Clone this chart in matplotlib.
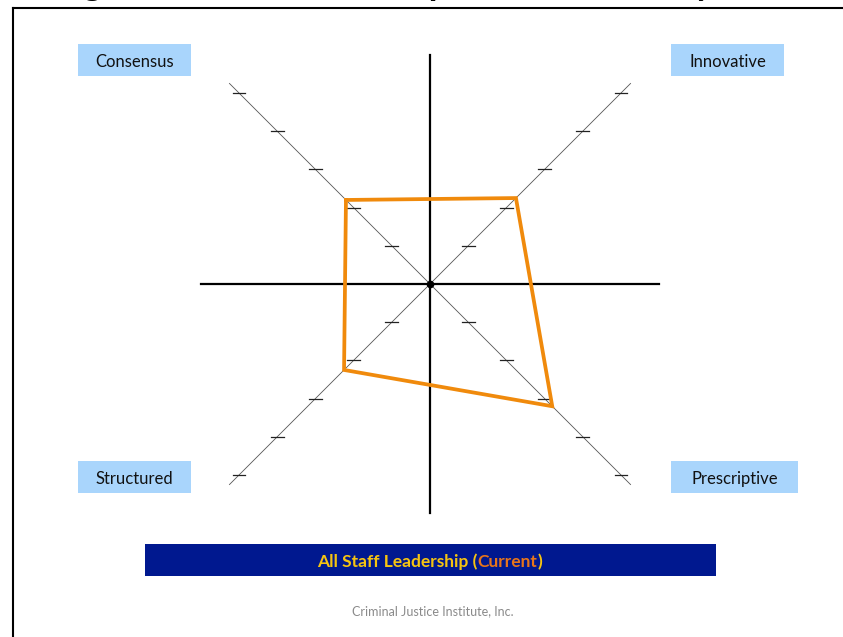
import numpy as np
import matplotlib.pyplot as plt
from matplotlib.patches import Rectangle

# Значения по четырём диагональным осям (в делениях шкалы)
styles = ['Consensus', 'Innovative', 'Prescriptive', 'Structured']
directions = [(-1, 1), (1, 1), (1, -1), (-1, -1)]
current = [2.2, 2.25, 3.2, 2.25]
tick_steps = [1, 2, 3, 4, 5]
diag_len = 5.25
axis_len = 6.0

title = 'Organizational Leadership Behavior Survey'
banner_parts = ['All Staff Leadership (', 'Current', ')']
footer = 'Criminal Justice Institute, Inc.'

W, H = 843, 637
unit = 38.2          # пикселей на одно деление
cx, cy = 430, 284    # центр креста в пикселях

fig = plt.figure(figsize=(W / 100, H / 100), dpi=100)
ax = fig.add_axes([0, 0, 1, 1])
ax.set_xlim(-cx / unit, (W - cx) / unit)
ax.set_ylim(-(H - cy) / unit, cy / unit)
ax.axis('off')

font = 'Lato'

# рамка слайда
fig.add_artist(plt.Line2D([13 / W, 13 / W], [0, 1 - 8 / H], color='black', lw=1.5))
fig.add_artist(plt.Line2D([13 / W, 1], [1 - 8 / H, 1 - 8 / H], color='black', lw=1.5))

# обрезанный заголовок сверху (видны только хвосты букв, как в оригинале)
fig.text(42 / W, 1 + 5 / H, title, fontsize=25.2, fontweight='bold',
         family=font, ha='left', va='baseline')

# диагонали с делениями
for dx, dy in directions:
    ax.plot([0, dx * diag_len], [0, dy * diag_len], color='#555555', lw=0.6)
    for t in tick_steps:
        ax.plot([dx * t - 0.17, dx * t + 0.17], [dy * t, dy * t], color='#222222', lw=0.9)

# главный крест
ax.plot([-axis_len, axis_len], [0, 0], color='black', lw=1.6)
ax.plot([0, 0], [-axis_len, axis_len], color='black', lw=1.6)
ax.plot(0, 0, 'o', color='black', ms=4.5)

# многоугольник текущего стиля
px = [d[0] * v for d, v in zip(directions, current)]
py = [d[1] * v for d, v in zip(directions, current)]
ax.plot(px + px[:1], py + py[:1], color='#f08a0c', lw=2.7, solid_joinstyle='miter')

# подписи в голубых прямоугольниках
boxes = {'Consensus': (78, 44, 113), 'Innovative': (671, 44, 113),
         'Prescriptive': (671, 461, 127), 'Structured': (78, 461, 113)}
for name in styles:
    x0, y0, w = boxes[name]
    h = 32
    fig.add_artist(Rectangle((x0 / W, 1 - (y0 + h) / H), w / W, h / H,
                             transform=fig.transFigure, color='#a9d5fc', lw=0))
    fig.text((x0 + w / 2) / W, 1 - (y0 + h / 2 + 2) / H, name, fontsize=12,
             family=font, ha='center', va='center', color='#111111')

# нижняя плашка
fig.add_artist(Rectangle((145 / W, 1 - 576 / H), 571 / W, 32 / H,
                         transform=fig.transFigure, color='#00188f', lw=0))
colors = ['#f6c411', '#e8751a', '#f6c411']
r = fig.canvas.get_renderer()
texts = []
for part, col in zip(banner_parts, colors):
    texts.append(fig.text(0, 1 - 562 / H, part, fontsize=12.5, fontweight='bold',
                          family=font, color=col, va='center'))
widths = [t.get_window_extent(r).width for t in texts]
x = 430 - sum(widths) / 2
for t, w in zip(texts, widths):
    t.set_x(x / W)
    x += w

fig.text(433 / W, 1 - 611 / H, footer, fontsize=9, family=font,
         color='#8a8a8a', ha='center', va='center')

fig.savefig('out.png', dpi=100)
